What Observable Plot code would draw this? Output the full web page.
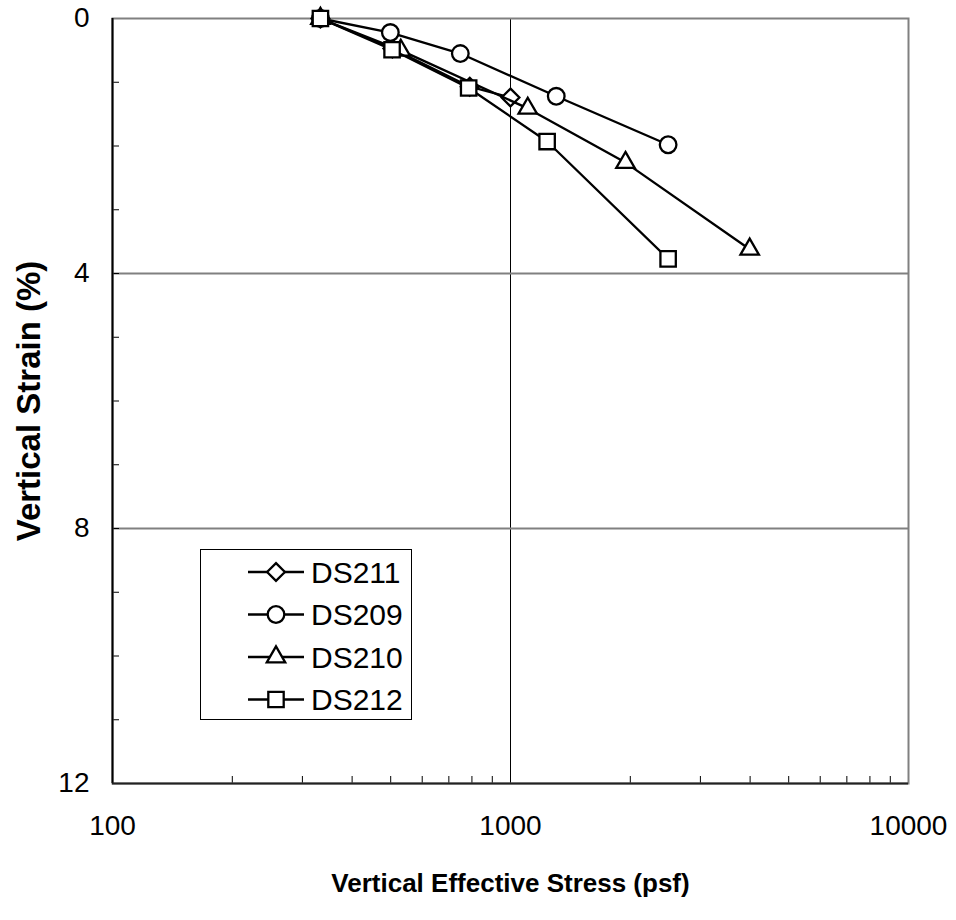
<!DOCTYPE html>
<html>
<head>
<meta charset="utf-8">
<script src="https://cdn.jsdelivr.net/npm/d3@7"></script>
<script src="https://cdn.jsdelivr.net/npm/@observablehq/plot@0.6"></script>
<style>
  html, body { margin: 0; padding: 0; background: white; }
  #wrap { position: relative; width: 956px; height: 920px; }
</style>
</head>
<body>
<div id="wrap"></div>
<script>
// ---- data ----
const seriesNames = ["DS211", "DS209", "DS210", "DS212"];
const stressDS211 = [333, 505, 790, 1000];
const strainDS211 = [0, 0.47, 1.07, 1.24];
const stressDS209 = [333, 499, 748, 1303, 2489];
const strainDS209 = [0, 0.22, 0.55, 1.22, 1.98];
const stressDS210 = [333, 530, 1105, 1945, 3990];
const strainDS210 = [0, 0.50, 1.41, 2.26, 3.62];
const stressDS212 = [333, 504, 785, 1236, 2489];
const strainDS212 = [0, 0.49, 1.09, 1.93, 3.77];

const stressTicks = [100, 1000, 10000];
const stressMinor = [200, 300, 400, 500, 600, 700, 800, 900, 2000, 3000, 4000, 5000, 6000, 7000, 8000, 9000];
const strainTicks = [0, 4, 8, 12];
const strainMinor = [1, 2, 3, 5, 6, 7, 9, 10, 11];
const stressGrid = [1000];
const strainGrid = [4, 8];
const xTitle = "Vertical Effective Stress (psf)";
const yTitle = "Vertical Strain (%)";

// ---- styles ----
const symbols = {DS211: "diamond2", DS209: "circle", DS210: "triangle2", DS212: "square2"};
const radii = {DS211: 8, DS209: 8.3, DS210: 8.8, DS212: 9.8};

const stressBySeries = {DS211: stressDS211, DS209: stressDS209, DS210: stressDS210, DS212: stressDS212};
const strainBySeries = {DS211: strainDS211, DS209: strainDS209, DS210: strainDS210, DS212: strainDS212};
const rows = seriesNames.flatMap(s => stressBySeries[s].map((v, i) => ({series: s, stress: v, strain: strainBySeries[s][i]})));

const W = 956, H = 920, mL = 112, mR = 48, mT = 18, mB = 137;
const plotW = W - mL - mR, plotH = H - mT - mB;
const font = "'Liberation Sans', Arial, sans-serif";

const seriesMarks = seriesNames.flatMap(s => {
  const d = rows.filter(r => r.series === s);
  return [
    Plot.line(d, {x: "stress", y: "strain", stroke: "black", strokeWidth: 2.3}),
    Plot.dot(d, {x: "stress", y: "strain", symbol: () => symbols[s], r: radii[s], fill: "white", stroke: "black", strokeWidth: 2.3})
  ];
});

const chart = Plot.plot({
  width: W, height: H,
  marginLeft: mL, marginRight: mR, marginTop: mT, marginBottom: mB,
  x: {type: "log", domain: [100, 10000]},
  y: {domain: [0, 12], reverse: true},
  symbol: {type: "identity"},
  style: {fontFamily: font, fontSize: "28px", color: "black", background: "white", overflow: "visible"},
  marks: [
    Plot.gridX(stressGrid, {stroke: "black", strokeOpacity: 1, strokeWidth: 1}),
    Plot.gridY(strainGrid, {stroke: "#808080", strokeOpacity: 1, strokeWidth: 2}),
    Plot.ruleX(stressMinor, {stroke: "black", strokeWidth: 1, insetTop: plotH - 7}),
    Plot.ruleY(strainMinor, {stroke: "black", strokeWidth: 1, insetRight: plotW - 7}),
    Plot.ruleX(stressGrid, {stroke: "black", strokeWidth: 1, insetTop: plotH - 7}),
    Plot.ruleY(strainGrid, {stroke: "black", strokeWidth: 1, insetRight: plotW - 7}),
    Plot.frame({stroke: "#808080", strokeWidth: 2}),
    Plot.ruleX([100], {stroke: "black", strokeWidth: 2}),
    Plot.ruleY([12], {stroke: "#222", strokeWidth: 2}),
    Plot.axisX(stressTicks, {tickSize: 0, tickPadding: 32, fontSize: 28, label: null, tickFormat: d => String(d)}),
    Plot.axisY(strainTicks, {tickSize: 0, tickPadding: 23, fontSize: 28, label: null, tickFormat: d => String(d)}),
    Plot.text([xTitle], {text: d => d, frameAnchor: "bottom", textAnchor: "middle", dy: 108, fontSize: 26, fontWeight: "bold"}),
    Plot.text([yTitle], {text: d => d, frameAnchor: "left", textAnchor: "middle", rotate: -90, dx: -83, fontSize: 33, fontWeight: "bold"}),
    ...seriesMarks
  ]
});
document.getElementById("wrap").appendChild(chart);

// ---- legend (inside the plot area, as in the reference) ----
const legW = 212, legH = 171;
const legend = d3.create("svg").attr("width", legW).attr("height", legH)
  .style("position", "absolute").style("left", "200px").style("top", "549px");
legend.append("rect").attr("x", 0.5).attr("y", 0.5).attr("width", legW - 1).attr("height", legH - 1)
  .attr("fill", "white").attr("stroke", "black").attr("stroke-width", 1);
const symbolTypes = {diamond2: d3.symbolDiamond2, circle: d3.symbolCircle, triangle2: d3.symbolTriangle2, square2: d3.symbolSquare2};
seriesNames.forEach((s, i) => {
  const cy = 23 + i * 42.5;
  const g = legend.append("g");
  g.append("line").attr("x1", 48).attr("x2", 104).attr("y1", cy).attr("y2", cy).attr("stroke", "black").attr("stroke-width", 2.3);
  g.append("path").attr("transform", `translate(76,${cy})`)
    .attr("d", d3.symbol(symbolTypes[symbols[s]], Math.PI * radii[s] * radii[s])())
    .attr("fill", "white").attr("stroke", "black").attr("stroke-width", 2.3);
  g.append("text").attr("x", 111).attr("y", cy).attr("dy", "0.36em")
    .attr("font-family", font).attr("font-size", 30).text(s);
});
document.getElementById("wrap").appendChild(legend.node());
</script>
</body>
</html>
